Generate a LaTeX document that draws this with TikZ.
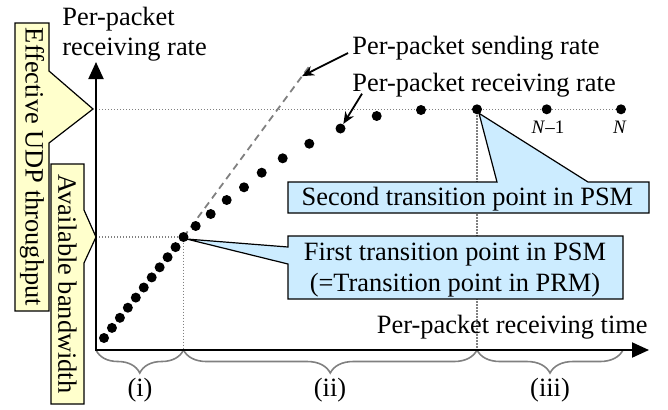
\documentclass[tikz,border=0pt]{standalone}
\usepackage{fontspec}
\setmainfont{Liberation Serif}
\usetikzlibrary{calc,arrows.meta,decorations.pathreplacing}

\definecolor{noteyellow}{HTML}{FFFFCC}
\definecolor{noteblue}{HTML}{CCECFF}
\definecolor{guidegray}{HTML}{808080}

\tikzset{
  pkt/.style={circle, fill=black, inner sep=0pt, minimum size=5pt},
  guide/.style={guidegray, line width=0.6pt, dash pattern=on 0.6pt off 0.9pt},
  sendline/.style={guidegray, line width=0.9pt, dash pattern=on 3.5pt off 2.5pt},
  axis/.style={line width=1pt, {Triangle[length=8.5pt,width=7.5pt]}-{Triangle[length=8.5pt,width=7.5pt]}},
  pointer/.style={->, line width=0.9pt},
  ybox/.style={draw=black, fill=noteyellow, line width=0.6pt},
  bbox/.style={draw=black, fill=noteblue, line width=0.6pt},
  phase/.style={decorate, decoration={brace, mirror, amplitude=11.5pt},
    guidegray, line width=0.8pt},
  nlab/.style={inner sep=0pt, font=\fontsize{9.5}{11}\selectfont}
}

\begin{document}
\begin{tikzpicture}[x=0.5pt, y=-0.5pt, >={Stealth[length=6pt,width=5pt]},
  font=\fontsize{13.2}{15.5}\selectfont]

  % Page frame, in pixel units with y pointing down
  \useasboundingbox (0,0) rectangle (668,409);

  % Axes corners and the two transition points
  \coordinate (origin) at (96,350);
  \coordinate (ytop) at (96,62);
  \coordinate (xend) at (649,350);
  \coordinate (knee1) at (183.5,237);
  \coordinate (knee2) at (477,109.3);
  \coordinate (sendtop) at (311,64);

  % Guide lines
  \draw[guide] (knee2 -| origin) -- (621,109.3);
  \draw[guide] (knee1 -| origin) -- (knee1) -- (knee1 |- origin);
  \draw[guide] (knee2) -- ($(knee2 |- origin)+(0,2)$);

  % Sending rate keeps rising
  \draw[sendline] (knee1) -- (sendtop);

  % Phases under the time axis
  \draw[phase] (origin) -- (knee1 |- origin);
  \draw[phase] (knee1 |- origin) -- (knee2 |- origin);
  \draw[phase] (knee2 |- origin) -- (623,350);
  \node[anchor=base] (ph1) at (140,396) {(i)};
  \node[anchor=base] (ph2) at (330,396) {(ii)};
  \node[anchor=base] (ph3) at (550,396) {(iii)};

  % Notes on the rate axis
  \draw[ybox] (15,23) -- (49,23) -- (49,71) -- (93,109) -- (49,143)
    -- (49,311) -- (15,311) -- cycle;
  \node[rotate=-90] (udp) at (32,167) {Effective UDP throughput};
  \draw[ybox] (51,164) -- (84,164) -- (84,210) -- (knee1 -| origin)
    -- (84,263) -- (84,404) -- (51,404) -- cycle;
  \node[rotate=-90] (bw) at (67.5,284) {Available bandwidth};

  % Axes
  \draw[axis] (ytop) -- (origin) -- (xend);
  \node[anchor=north west, align=left, inner sep=0pt,
    font=\fontsize{13.2}{15}\selectfont] (ylab) at (62,7)
    {Per-packet\\receiving rate};
  \node[anchor=base east, inner sep=0pt] (xlab) at (648,333)
    {Per-packet receiving time};

  % Received packets: straight part
  \foreach \i in {0,...,10}
    \node[pkt] (p\i) at ({104+7.95*\i},{338-10.1*\i}) {};
  % then bending and flat
  \foreach \x/\y [count=\i] in {195.7/226, 210.7/214, 226.7/200, 244/187.3,
      261.7/172.7, 282.7/158.3, 309.3/143.7, 340.5/128.5, 376.7/116,
      421/110, 477/109.3, 546.7/109.3, 621/109.3}
    \node[pkt] (q\i) at (\x,\y) {};

  \node[nlab, anchor=base] (nm1) at (548,133) {\textit{N}–1};
  \node[nlab, anchor=base] (nn) at (620,133) {\textit{N}};

  % Transition point notes
  \draw[bbox] (288,182) -- (497,182) -- ($(knee2)+(2,4)$) -- (588,182)
    -- (649,182) -- (649,213) -- (288,213) -- cycle;
  \node[anchor=base] (second) at (467.4,205) {Second transition point in PSM};
  \draw[bbox] (288,236) -- (623,236) -- (623,299) -- (288,299) -- (288,264)
    -- ($(knee1)+(3,2)$) -- (288,247) -- cycle;
  \node[align=center] (first) at (455,270)
    {First transition point in PSM\\(=Transition point in PRM)};

  % Curve labels
  \node[anchor=base west, inner sep=0pt] (sendlab) at (352,54)
    {Per-packet sending rate};
  \node[anchor=base west, inner sep=0pt] (recvlab) at (352,91.7)
    {Per-packet receiving rate};
  \draw[pointer] ($(sendlab.base west)+(-4,-1)$) -- ($(knee1)!0.93!(sendtop)$);
  \draw[pointer] ($(recvlab.base west)+(10,2)$) -- (q8);

\end{tikzpicture}
\end{document}
